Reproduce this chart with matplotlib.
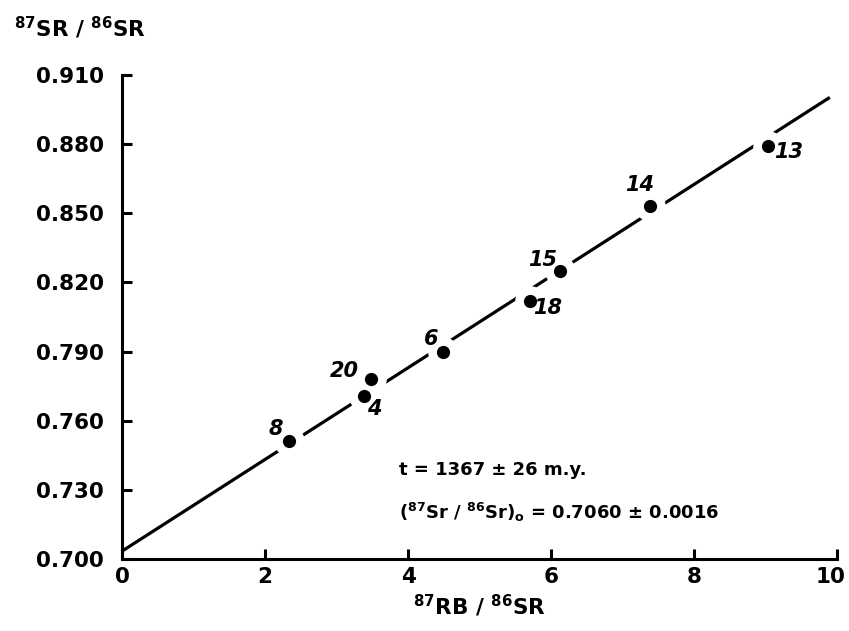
import matplotlib
matplotlib.use("Agg")
import matplotlib.pyplot as plt
from matplotlib.transforms import ScaledTranslation

# ---- data ----
sample_ids = ["8", "4", "20", "6", "18", "15", "14", "13"]
rb_sr = [2.34, 3.39, 3.48, 4.49, 5.70, 6.13, 7.38, 9.03]
sr_sr = [0.751, 0.7708, 0.7781, 0.790, 0.8121, 0.8251, 0.8532, 0.8792]
label_offsets = [(-14, 12), (10, -13), (-26, 8), (-12, 13), (18, -7), (-18, 11), (-10, 21), (21, -6)]
isochron_x = [0.0, 9.9]
isochron_y = [0.7034, 0.9003]
x_ticks = [0, 2, 4, 6, 8, 10]
y_ticks = [0.700, 0.730, 0.760, 0.790, 0.820, 0.850, 0.880, 0.910]
y_tick_labels = ["0.700", "0.730", "0.760", "0.790", "0.820", "0.850", "0.880", "0.910"]

plt.rcParams['font.family'] = ['DejaVu Sans']
plt.rcParams['mathtext.default'] = 'bf'

W, H = 849, 631
fig = plt.figure(figsize=(W / 100, H / 100), dpi=100)
ax = fig.add_axes([122 / W, 1 - 559 / H, (837 - 122) / W, (559 - 75) / H])

ax.set_xlim(0, 10)
ax.set_ylim(0.700, 0.910)

# isochron line
ax.plot(isochron_x, isochron_y, color='black', lw=2.3, solid_capstyle='butt', zorder=1, clip_on=False)
# white halo to break the line around points
ax.scatter(rb_sr, sr_sr, s=22 ** 2, color='white', zorder=2, linewidths=0, clip_on=False)
ax.scatter(rb_sr, sr_sr, s=9.5 ** 2, color='black', zorder=3, linewidths=0, clip_on=False)

for sid, x, y, off in zip(sample_ids, rb_sr, sr_sr, label_offsets):
    ax.annotate(sid, (x, y), xytext=off, textcoords='offset pixels',
                ha='center', va='center', fontsize=15, fontstyle='italic',
                fontweight='bold', zorder=4)

for s in ['top', 'right']:
    ax.spines[s].set_visible(False)
for s in ['left', 'bottom']:
    ax.spines[s].set_linewidth(2.2)

ax.set_xticks(x_ticks)
ax.set_xticklabels([str(t) for t in x_ticks])
ax.set_yticks(y_ticks)
ax.set_yticklabels(y_tick_labels)
ax.tick_params(axis='both', direction='in', length=7, width=2.2, labelsize=15.5)
ax.tick_params(axis='y', pad=13)
ax.tick_params(axis='x', pad=6)
for lab in ax.get_xticklabels() + ax.get_yticklabels():
    lab.set_fontweight('bold')
# keep the last x label ("10") inside the figure
last = ax.get_xticklabels()[-1]
last.set_transform(last.get_transform() + ScaledTranslation(-5 / 72, 0, fig.dpi_scale_trans))

fig.text(14 / W, 1 - 28 / H, r'$^{87}$SR / $^{86}$SR', fontsize=15.5, fontweight='bold',
         ha='left', va='center')
fig.text(479 / W, 1 - 606 / H, r'$^{87}$RB / $^{86}$SR', fontsize=15.5, fontweight='bold',
         ha='center', va='center')

fig.text(493 / W, 1 - 470 / H, 't = 1367 ± 26 m.y.', fontsize=13, fontweight='bold',
         ha='center', va='center')
fig.text(559 / W, 1 - 512 / H, r'($^{87}$Sr / $^{86}$Sr)$_{o}$ = 0.7060 ± 0.0016', fontsize=13,
         fontweight='bold', ha='center', va='center')

fig.savefig('out.png', dpi=100)
